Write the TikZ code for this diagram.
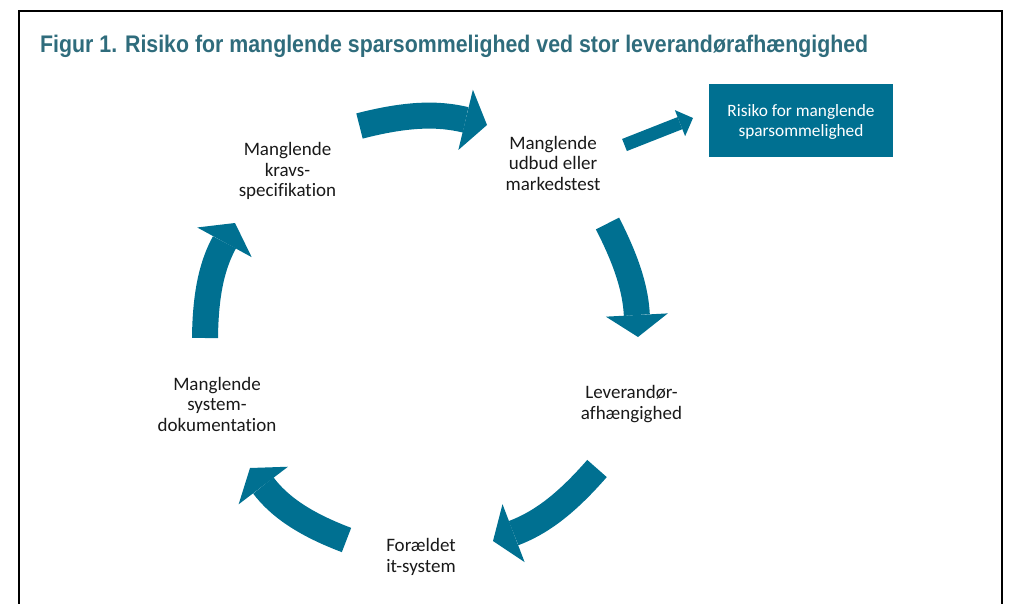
\documentclass[tikz,border=0pt]{standalone}
\usepackage{fontspec}
\usepackage{graphicx}
\setmainfont{Carlito}[Ligatures=NoCommon]
\newfontfamily\titlefont{Liberation Sans}
\usetikzlibrary{arrows.meta}
\definecolor{arrowc}{RGB}{0,112,145}
\definecolor{titlec}{RGB}{47,108,124}
\begin{document}
\begin{tikzpicture}[x=1pt,y=1pt,
  lbl/.style={font=\fontsize{19}{20.5}\selectfont, align=center, inner sep=0pt, text=black!90},
  blockarrow/.style={draw=arrowc, line width=26pt, -{Triangle[width=62pt,length=22pt,line width=0pt]}},
  thinarrow/.style={draw=arrowc, line width=13pt, -{Triangle[width=28pt,length=14pt,line width=0pt]}},
]
\useasboundingbox (0,0) rectangle (1011,-604);
\draw[line width=2.5pt] (19,-604) -- (19,-11) -- (1002,-11) -- (1002,-604);
\node[anchor=base west, inner sep=0pt, text=titlec, font=\titlefont\bfseries\fontsize{24}{28}\selectfont] (title) at (40,-53)
  {\resizebox{828pt}{\height}{Figur 1. Risiko for manglende sparsommelighed ved stor leverandørafhængighed}};

\node[lbl] (krav) at (287.5,-171) {Manglende\\kravs-\\specifikation};
\node[lbl] (udbud) at (553,-163) {Manglende\\udbud eller\\markedstest};
\node[lbl] (lev) at (631.5,-404) {Leverandør-\\afhængighed};
\node[lbl] (for) at (421,-557) {Forældet\\it-system};
\node[lbl] (dok) at (217,-404) {Manglende\\system-\\dokumentation};

\node[fill=arrowc, text=white, minimum width=184pt, minimum height=73pt, inner sep=0pt,
  font=\fontsize{17.3}{20}\selectfont] (risk) at (801,-120.5)
  {\raisebox{-2.5pt}[\height][\depth]{\begin{tabular}{@{}c@{}}Risiko for manglende\\sparsommelighed\end{tabular}}};

\coordinate (a1s) at (359.5,-126); \coordinate (a1e) at (487,-125);
\coordinate (a2s) at (607.5,-223.5); \coordinate (a2e) at (638,-337);
\coordinate (a3s) at (597,-468.5); \coordinate (a3e) at (493,-541);
\coordinate (a4s) at (346.5,-540); \coordinate (a4e) at (250,-468);
\coordinate (a5s) at (205,-338); \coordinate (a5e) at (235,-223);
\coordinate (a6s) at (624.5,-145); \coordinate (a6e) at (693,-118);

\draw[blockarrow] (a1s) to[bend left=14] (a1e);
\draw[blockarrow] (a2s) to[bend left=12] (a2e);
\draw[blockarrow] (a3s) to[bend left=14] (a3e);
\draw[blockarrow] (a4s) to[bend left=16] (a4e);
\draw[blockarrow] (a5s) to[bend left=14] (a5e);
\draw[thinarrow] (a6s) -- (a6e);
\end{tikzpicture}
\end{document}
